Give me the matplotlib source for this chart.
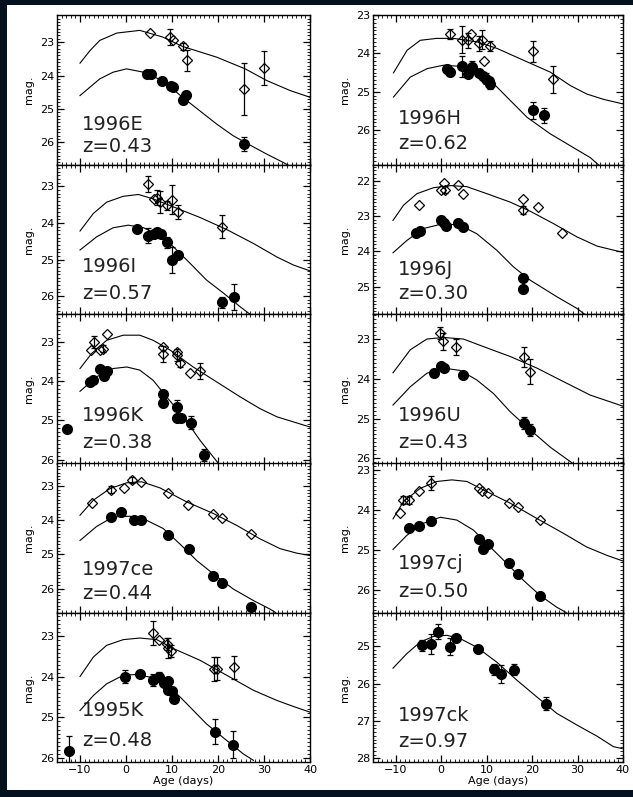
import matplotlib
matplotlib.use("Agg")
import matplotlib.pyplot as plt
from matplotlib.patches import Rectangle
from matplotlib.ticker import MultipleLocator

# Points are (age [days], mag, err); curves are (age, mag).
# "open" = open diamonds, "filled" = filled circles.

sn96E_open = [(5.2, 22.72, 0), (9.6, 22.85, 0.25), (10.3, 22.93, 0), (12.3, 23.13, 0.1),
              (13.2, 23.55, 0.3), (25.7, 24.4, 0.77), (30.0, 23.77, 0.5)]
sn96E_filled = [(4.5, 23.95, 0), (5.4, 23.95, 0), (7.9, 24.15, 0), (9.7, 24.3, 0), (10.2, 24.33, 0),
                (12.3, 24.72, 0.1), (13.0, 24.57, 0.1), (25.7, 26.05, 0.2)]
sn96E_upper = [(-10, 23.63), (-7.8, 23.25), (-5.7, 22.95), (-2, 22.73), (3, 22.65), (8, 22.85),
               (12.3, 23.13), (19.7, 23.45), (25.9, 23.8), (30.6, 24.15), (35.7, 24.45), (40, 24.65)]
sn96E_lower = [(-10, 24.6), (-5.7, 24.1), (-2.8, 23.9), (0.1, 23.8), (3.8, 23.9), (7.9, 24.15),
               (12.3, 24.65), (16, 25.05), (19.7, 25.45), (23.3, 25.8), (25.9, 26.0), (30.6, 26.35),
               (34.2, 26.6), (35.5, 26.7)]

sn96H_open = [(2.0, 23.5, 0.13), (4.55, 23.64, 0.35), (5.8, 23.66, 0.2), (6.5, 23.5, 0),
              (8.4, 23.74, 0.2), (9.0, 23.64, 0.25), (10.8, 23.81, 0.13), (9.5, 24.2, 0),
              (20.2, 23.95, 0.28), (24.6, 24.68, 0.36)]
sn96H_filled = [(1.25, 24.4, 0.1), (2.0, 24.49, 0), (4.55, 24.34, 0.27), (5.8, 24.53, 0),
                (6.7, 24.36, 0.15), (8.4, 24.51, 0), (9.2, 24.6, 0.1), (9.9, 24.66, 0.15),
                (10.6, 24.71, 0), (10.8, 24.79, 0.15), (20.2, 25.49, 0.22), (22.7, 25.62, 0.2)]
sn96H_upper = [(-10.5, 24.51), (-7.5, 23.92), (-4.6, 23.66), (-1, 23.61), (2.7, 23.61), (7.85, 23.7),
               (12.25, 23.87), (18.1, 24.18), (24, 24.49), (28.4, 24.84), (32, 25.06), (35.7, 25.2),
               (40, 25.32)]
sn96H_lower = [(-10.5, 25.14), (-6.8, 24.62), (-3.1, 24.4), (0.5, 24.31), (4.2, 24.34), (7.85, 24.49),
               (11.2, 24.75), (15.2, 25.23), (18.9, 25.67), (24, 26.1), (29.1, 26.46), (32.8, 26.72),
               (35, 26.95)]

sn96I_open = [(4.85, 22.93, 0.22), (6.1, 23.35, 0), (6.7, 23.31, 0.2), (7.4, 23.43, 0.3),
              (8.85, 23.52, 0.13), (10.1, 23.36, 0.4), (11.4, 23.7, 0.2), (20.9, 24.1, 0.32)]
sn96I_filled = [(2.3, 24.17, 0), (4.85, 24.35, 0.2), (6.1, 24.29, 0), (6.8, 24.26, 0), (7.5, 24.29, 0),
                (8.85, 24.53, 0.15), (10.1, 25.02, 0.35), (11.4, 24.88, 0), (20.9, 26.17, 0.15),
                (23.5, 26.03, 0.35)]
sn96I_upper = [(-10, 24.22), (-7.1, 23.74), (-4.2, 23.43), (-0.6, 23.27), (2.7, 23.22), (5.9, 23.34),
               (10.3, 23.56), (16.1, 23.85), (21.9, 24.18), (27.7, 24.56), (32.8, 24.93), (36.4, 25.15),
               (40, 25.31)]
sn96I_lower = [(-10, 24.74), (-6.4, 24.38), (-2.8, 24.13), (0.5, 24.06), (3.8, 24.13), (7.4, 24.34),
               (10.3, 24.65), (13.9, 25.1), (17.5, 25.56), (21.2, 25.92), (24.8, 26.29), (27, 26.5)]

sn96J_open = [(-4.8, 22.69, 0), (-0.07, 22.25, 0), (0.66, 22.05, 0), (0.9, 22.25, 0.1), (3.8, 22.11, 0),
              (4.8, 22.36, 0), (18.0, 22.5, 0), (18.0, 22.82, 0.12), (21.2, 22.74, 0), (26.6, 23.47, 0)]
sn96J_filled = [(-5.5, 23.48, 0), (-4.6, 23.42, 0), (0.0, 23.12, 0), (0.66, 23.19, 0), (1.1, 23.29, 0),
                (3.8, 23.19, 0), (4.9, 23.31, 0), (18.0, 24.75, 0), (18.0, 25.07, 0.1)]
sn96J_upper = [(-10.6, 23.12), (-8.3, 22.69), (-5.35, 22.36), (-1.7, 22.19), (2, 22.13), (5.65, 22.16),
               (10.05, 22.36), (15.2, 22.6), (19.6, 22.86), (24.7, 23.21), (29.9, 23.59), (34.3, 23.85),
               (40, 24.03)]
sn96J_lower = [(-10.6, 24.04), (-7.55, 23.69), (-3.9, 23.35), (0.5, 23.21), (4.2, 23.26), (7.85, 23.5),
               (12.25, 23.97), (15.9, 24.44), (19.6, 24.82), (25.45, 25.29), (29.85, 25.62), (31.5, 25.78)]

sn96K_open = [(-7.7, 23.21, 0), (-6.96, 23.0, 0.15), (-5.65, 23.21, 0), (-4.9, 23.17, 0.1),
              (-4.05, 22.79, 0), (7.97, 23.13, 0), (7.97, 23.31, 0.2), (11.0, 23.26, 0),
              (11.15, 23.34, 0.15), (11.7, 23.55, 0.1), (13.9, 23.79, 0), (16.1, 23.74, 0.2)]
sn96K_filled = [(-12.9, 25.21, 0), (-7.8, 24.02, 0), (-7.1, 23.98, 0), (-5.65, 23.68, 0), (-4.8, 23.87, 0),
                (-4.05, 23.74, 0), (8.1, 24.33, 0), (8.1, 24.57, 0), (11.15, 24.66, 0.18),
                (11.15, 24.94, 0), (11.9, 24.94, 0), (14.1, 25.06, 0.17), (17.0, 25.89, 0.15)]
sn96K_upper = [(-10, 23.68), (-7.5, 23.3), (-4.2, 22.96), (-0.6, 22.83), (3, 22.83), (5.9, 22.96),
               (9.6, 23.21), (14.6, 23.64), (19.7, 24.02), (24.8, 24.4), (29.1, 24.7), (32.8, 24.91),
               (36.4, 25.04), (40, 25.17)]
sn96K_lower = [(-10, 24.26), (-6.4, 23.89), (-2.8, 23.68), (0.15, 23.64), (3, 23.72), (5.9, 23.98),
               (8.8, 24.4), (12.5, 24.91), (16.1, 25.51), (20.1, 26.1)]

sn96U_open = [(-0.2, 22.85, 0.15), (0.5, 23.06, 0.22), (3.3, 23.19, 0.2), (18.3, 23.46, 0.25),
              (19.6, 23.82, 0.32)]
sn96U_filled = [(-1.55, 23.85, 0), (-0.07, 23.68, 0), (0.66, 23.73, 0), (4.8, 23.9, 0),
                (18.3, 25.11, 0.15), (19.6, 25.28, 0.15)]
sn96U_upper = [(-10.6, 23.85), (-6.8, 23.27), (-3.15, 23.0), (0.5, 22.96), (4.9, 23.0), (9.3, 23.19),
               (15.2, 23.44), (21.05, 23.73), (26.9, 24.07), (32.8, 24.41), (37.2, 24.58), (40, 24.69)]
sn96U_lower = [(-10.6, 24.66), (-6.8, 24.2), (-3.15, 23.86), (0.5, 23.73), (4.2, 23.79), (7.85, 24.03),
               (11.5, 24.37), (15.2, 24.83), (18.85, 25.21), (24, 25.72), (29.1, 26.14)]

sn97ce_open = [(-7.3, 23.49, 0), (-3.26, 23.1, 0.1), (-0.43, 23.04, 0), (1.37, 22.82, 0.1),
               (3.26, 22.89, 0), (9.06, 23.19, 0), (13.5, 23.56, 0), (19.0, 23.82, 0),
               (20.9, 23.93, 0), (27.1, 24.39, 0)]
sn97ce_filled = [(-3.26, 23.9, 0), (-1.15, 23.77, 0), (1.74, 24.0, 0), (3.26, 24.0, 0), (9.06, 24.44, 0),
                 (13.7, 24.83, 0), (19.0, 25.62, 0), (20.9, 25.83, 0), (27.1, 26.55, 0)]
sn97ce_upper = [(-10, 23.85), (-7.1, 23.41), (-3.5, 23.07), (0.15, 22.9), (3.4, 22.87), (7.4, 23.05),
                (13.2, 23.46), (19, 23.8), (24.1, 24.15), (29.1, 24.54), (33.5, 24.83), (37.1, 24.96),
                (40, 25.03)]
sn97ce_lower = [(-10, 24.59), (-6.4, 24.18), (-2.8, 23.9), (0.87, 23.88), (4.5, 24.0), (8.1, 24.24),
                (11.7, 24.69), (15.4, 25.18), (19, 25.57), (23.3, 26.01), (27.7, 26.35), (31.3, 26.6),
                (32.5, 26.7)]

sn97cj_open = [(-9.0, 24.07, 0), (-8.3, 23.75, 0.1), (-7.0, 23.75, 0.1), (-4.9, 23.53, 0),
               (-2.3, 23.33, 0.18), (8.4, 23.44, 0), (9.0, 23.53, 0), (10.2, 23.58, 0),
               (15.0, 23.83, 0), (17.0, 23.92, 0), (21.8, 24.25, 0)]
sn97cj_filled = [(-7.0, 24.44, 0), (-4.9, 24.39, 0), (-2.3, 24.28, 0.1), (8.3, 24.71, 0),
                 (9.3, 24.97, 0.1), (10.2, 24.85, 0), (14.9, 25.33, 0), (16.9, 25.58, 0),
                 (21.8, 26.13, 0)]
sn97cj_upper = [(-10.6, 24.22), (-8.3, 23.79), (-4.6, 23.46), (-0.95, 23.29), (2.35, 23.25),
                (5.65, 23.29), (9.3, 23.5), (15.2, 23.83), (21.05, 24.21), (26.9, 24.58), (32, 24.92),
                (36.5, 25.13), (40, 25.27)]
sn97cj_lower = [(-10.6, 24.98), (-7.55, 24.63), (-3.9, 24.33), (-0.2, 24.18), (3.45, 24.25), (7.1, 24.5),
                (10.8, 24.92), (14.45, 25.33), (18.1, 25.75), (21.8, 26.13), (25.45, 26.42),
                (27.5, 26.55)]

sn95K_open = [(5.8, 22.91, 0.3), (7.2, 23.08, 0), (8.85, 23.18, 0.15), (9.2, 23.29, 0.25),
              (9.7, 23.35, 0.15), (19.1, 23.8, 0.3), (19.85, 23.8, 0.28), (23.5, 23.76, 0.28)]
sn95K_filled = [(-12.5, 25.83, 0.38), (-0.2, 24.0, 0.16), (3.04, 23.94, 0), (5.8, 24.07, 0.15),
                (7.2, 23.99, 0.1), (8.26, 24.15, 0), (9.2, 24.11, 0), (9.2, 24.32, 0), (9.9, 24.35, 0.1),
                (10.4, 24.54, 0), (19.35, 25.35, 0.3), (23.3, 25.67, 0.33)]
sn95K_upper = [(-10, 23.99), (-7.1, 23.51), (-4.2, 23.22), (-0.6, 23.08), (3, 23.04), (6.7, 23.08),
               (10.3, 23.3), (16.1, 23.59), (21.9, 23.96), (27.7, 24.33), (32.8, 24.58), (36.4, 24.73),
               (40, 24.87)]
sn95K_lower = [(-10, 24.83), (-7.1, 24.46), (-4.2, 24.17), (-0.6, 23.96), (2.3, 23.94), (5.9, 24.02),
               (9.6, 24.25), (13.2, 24.66), (17.5, 25.16), (21.9, 25.57), (25.5, 25.9), (27.7, 26.06)]

sn97ck_filled = [(-4.25, 24.98, 0.14), (-2.27, 24.94, 0.27), (-0.8, 24.61, 0.2), (1.83, 25.01, 0.22),
                 (3.2, 24.78, 0), (8.0, 25.07, 0), (11.7, 25.62, 0.15), (13.2, 25.75, 0.24),
                 (16.1, 25.63, 0.15), (23.1, 26.54, 0.18)]
sn97ck_curve = [(-10.6, 25.59), (-7.55, 25.2), (-4.6, 24.89), (-1.7, 24.74), (1.25, 24.71), (4.2, 24.8),
                (7.85, 25.03), (12.25, 25.43), (16.65, 25.91), (21.05, 26.36), (25.45, 26.8),
                (29.85, 27.11), (34.3, 27.41), (37.9, 27.69), (39.8, 27.74)]

# name, redshift label, open pts, filled pts, curves, y-limits (bottom, top)
panels = [
    ("1996E", "z=0.43", sn96E_open, sn96E_filled, [sn96E_upper, sn96E_lower], (26.66, 22.19)),
    ("1996H", "z=0.62", sn96H_open, sn96H_filled, [sn96H_upper, sn96H_lower], (26.9, 23.0)),
    ("1996I", "z=0.57", sn96I_open, sn96I_filled, [sn96I_upper, sn96I_lower], (26.49, 22.4)),
    ("1996J", "z=0.30", sn96J_open, sn96J_filled, [sn96J_upper, sn96J_lower], (25.78, 21.53)),
    ("1996K", "z=0.38", sn96K_open, sn96K_filled, [sn96K_upper, sn96K_lower], (26.1, 22.29)),
    ("1996U", "z=0.43", sn96U_open, sn96U_filled, [sn96U_upper, sn96U_lower], (26.13, 22.37)),
    ("1997ce", "z=0.44", sn97ce_open, sn97ce_filled, [sn97ce_upper, sn97ce_lower], (26.7, 22.32)),
    ("1997cj", "z=0.50", sn97cj_open, sn97cj_filled, [sn97cj_upper, sn97cj_lower], (26.55, 22.83)),
    ("1995K", "z=0.48", sn95K_open, sn95K_filled, [sn95K_upper, sn95K_lower], (26.1, 22.41)),
    ("1997ck", "z=0.97", [], sn97ck_filled, [sn97ck_curve], (28.1, 24.1)),
]
# vertical position (axes fraction) of the name / redshift text per panel
label_y = [(0.27, 0.12), (0.31, 0.14), (0.32, 0.135), (0.30, 0.138), (0.32, 0.143),
           (0.32, 0.143), (0.29, 0.125), (0.327, 0.143), (0.347, 0.147), (0.313, 0.135)]

W, H = 633, 797
col_x = [57, 373]
col_w = [253, 250]
row_top = [15, 164.5, 314, 463, 612.5]
row_h = 149.5


def draw_points(ax, pts, marker, filled):
    if not pts:
        return
    x = [p[0] for p in pts]
    y = [p[1] for p in pts]
    ex = [p[0] for p in pts if p[2] > 0]
    ey = [p[1] for p in pts if p[2] > 0]
    ee = [p[2] for p in pts if p[2] > 0]
    if ex:
        ax.errorbar(ex, ey, yerr=ee, fmt="none", ecolor="black", elinewidth=0.9,
                    capsize=2, capthick=0.9, zorder=3)
    if filled:
        ax.plot(x, y, ls="none", marker=marker, ms=7, color="black", zorder=4)
    else:
        ax.plot(x, y, ls="none", marker=marker, ms=5.5, mfc="none", mec="black",
                mew=0.9, zorder=4)


fig = plt.figure(figsize=(W / 100, H / 100), dpi=100, facecolor="#04101e")
fig.patches.append(Rectangle((7 / W, 7 / H), 1 - 7 / W, (790 - 5) / H, transform=fig.transFigure,
                             facecolor="white", edgecolor="none", zorder=-1))

for i, (name, zlab, opts, fpts, curves, ylim) in enumerate(panels):
    col, row = i % 2, i // 2
    ax = fig.add_axes([col_x[col] / W, (H - row_top[row] - row_h) / H, col_w[col] / W, row_h / H])
    ax.set_zorder(1)
    for c in curves:
        ax.plot([p[0] for p in c], [p[1] for p in c], color="black", lw=0.8, zorder=2)
    draw_points(ax, opts, "D", False)
    draw_points(ax, fpts, "o", True)

    ax.set_xlim(-15, 40)
    ax.set_ylim(*ylim)
    ax.xaxis.set_major_locator(MultipleLocator(10))
    ax.xaxis.set_minor_locator(MultipleLocator(1))
    ax.yaxis.set_major_locator(MultipleLocator(1))
    ax.yaxis.set_minor_locator(MultipleLocator(0.1))
    ax.tick_params(which="both", direction="in", top=True, right=True, labelsize=8, pad=2)
    ax.tick_params(which="major", length=5, width=0.9)
    ax.tick_params(which="minor", length=2.5, width=0.6)
    for s in ax.spines.values():
        s.set_linewidth(1.0)
    ax.set_ylabel("mag.", fontsize=8, labelpad=4)
    if row == 4:
        ax.set_xlabel("Age (days)", fontsize=8, labelpad=1)
    else:
        ax.tick_params(labelbottom=False)

    ny, zy = label_y[i]
    ax.text(0.1, ny, name, transform=ax.transAxes, fontsize=14, va="center", ha="left",
            color="#222222")
    ax.text(0.1, zy, zlab, transform=ax.transAxes, fontsize=14, va="center", ha="left",
            color="#222222")

fig.savefig("out.png", dpi=100, facecolor=fig.get_facecolor())
